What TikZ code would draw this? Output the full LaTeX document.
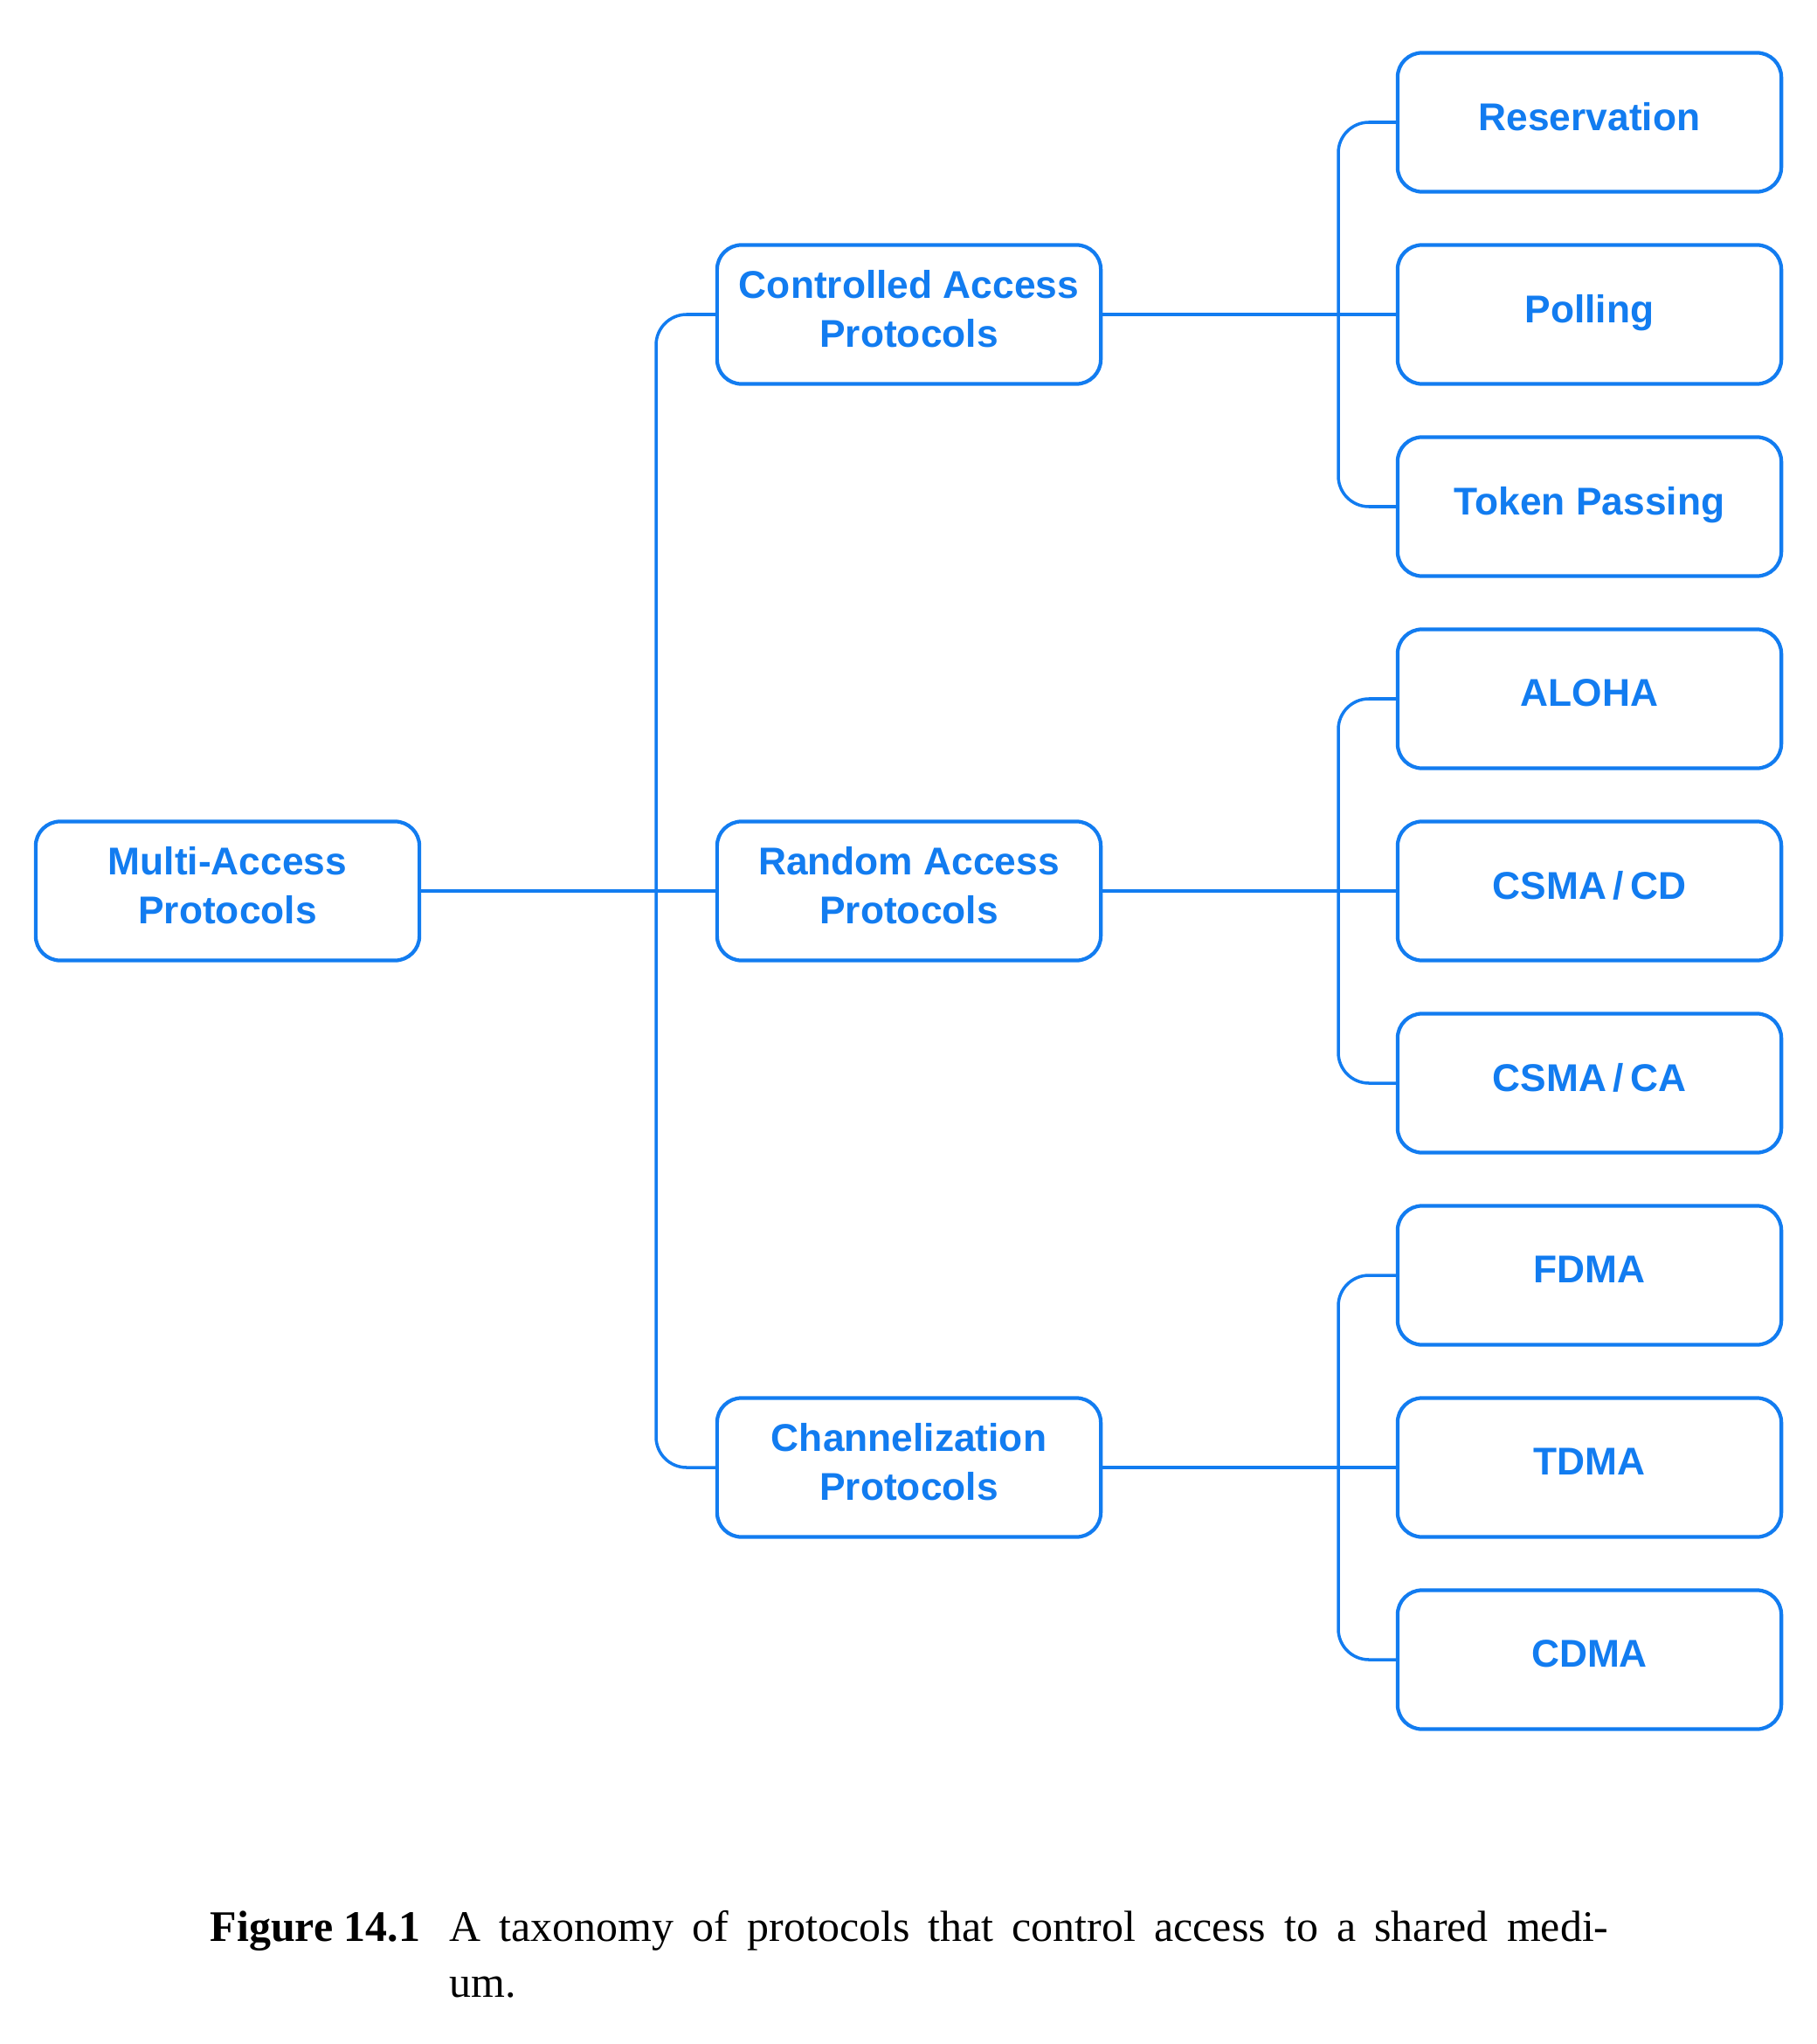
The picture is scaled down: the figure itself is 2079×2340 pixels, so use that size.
\documentclass[tikz,border=0pt]{standalone}
\usepackage{fontspec}
\setmainfont{Liberation Serif}
\newfontfamily\lblsans{Liberation Sans}
\definecolor{netblue}{RGB}{18,124,240}
\tikzset{
  boxst/.style={draw=netblue, line width=1.2pt, rounded corners=0.28cm,
    minimum width=4.39cm, minimum height=1.59cm, inner sep=0pt},
  lblone/.style={text=netblue, font=\lblsans\bfseries\fontsize{12.6}{16.1}\selectfont,
    inner sep=0pt, text depth=0pt},
  lbltwo/.style={text=netblue, font=\lblsans\bfseries\fontsize{12.6}{16.1}\selectfont,
    inner sep=0pt, align=center},
  conn/.style={draw=netblue, line width=1pt, rounded corners=0.35cm},
  captxt/.style={anchor=base west, inner sep=0pt, font=\fontsize{14.2}{18}\selectfont}
}
\newcommand\boxone[4]{\node[boxst] (#1) at (#2,#3) {};
  \node[lblone] (#1t) at ([yshift=0.07cm]#1.center) {#4};}
\newcommand\boxtwo[4]{\node[boxst] (#1) at (#2,#3) {};
  \node[lbltwo] (#1t) at ([yshift=0.065cm]#1.center) {#4};}
\begin{document}
\begin{tikzpicture}[x=0.01cm,y=-0.01cm]
\useasboundingbox (0,0) rectangle (2079,2340);
% root
\boxtwo{multi}{260.5}{1020}{Multi-Access\\Protocols}
% middle
\boxtwo{ctrl}{1040.5}{360}{Controlled Access\\Protocols}
\boxtwo{rand}{1040.5}{1020}{Random Access\\Protocols}
\boxtwo{chan}{1040.5}{1680}{Channelization\\Protocols}
% right
\boxone{resv}{1819.5}{140}{Reservation}
\boxone{poll}{1819.5}{360}{Polling}
\boxone{token}{1819.5}{580}{Token Passing}
\boxone{aloha}{1819.5}{800}{ALOHA}
\boxone{cd}{1819.5}{1020}{CSMA\,/\,CD}
\boxone{ca}{1819.5}{1240}{CSMA\,/\,CA}
\boxone{fdma}{1819.5}{1460}{FDMA}
\boxone{tdma}{1819.5}{1680}{TDMA}
\boxone{cdma}{1819.5}{1900}{CDMA}
% trunks
\coordinate (tmid) at (751,1020);
\coordinate (tc) at (1532,360);
\coordinate (tr) at (1532,1020);
\coordinate (tch) at (1532,1680);
\draw[conn] (multi.east) -- (rand.west);
\draw[conn] (ctrl.west) -| (tmid) |- (chan.west);
\draw[conn] (ctrl.east) -- (poll.west);
\draw[conn] (resv.west) -| (tc) |- (token.west);
\draw[conn] (rand.east) -- (cd.west);
\draw[conn] (aloha.west) -| (tr) |- (ca.west);
\draw[conn] (chan.east) -- (tdma.west);
\draw[conn] (fdma.west) -| (tch) |- (cdma.west);
% caption
\node[captxt] (figlbl) at (240,2222) {\bfseries Figure 14.1};
\node[captxt] (cap1) at (514,2222) {\makebox[13.26cm][s]{A taxonomy of protocols that control access to a shared medi-}};
\node[captxt] (cap2) at (514,2286) {um.};
\end{tikzpicture}
\end{document}
